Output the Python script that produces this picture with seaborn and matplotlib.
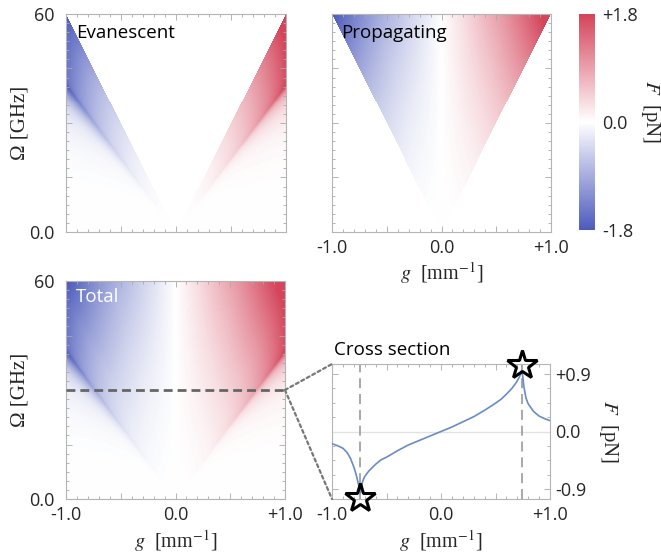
import numpy as np
import pandas as pd
import matplotlib
matplotlib.use("Agg")
import matplotlib.pyplot as plt
import seaborn as sns
from matplotlib.colors import LinearSegmentedColormap
from matplotlib.patches import ConnectionPatch
from matplotlib.ticker import FixedLocator, FixedFormatter, MultipleLocator

# ---------------- data ----------------
# cross section of the total force at Omega = 30 GHz
g_cs = [-1.00, -0.95, -0.90, -0.86, -0.83, -0.80, -0.78, -0.76, -0.745, -0.74,
        -0.73, -0.72, -0.70, -0.66, -0.60, -0.55, -0.50, -0.40, -0.30, -0.20,
        -0.10, 0.00, 0.10, 0.20, 0.30, 0.40, 0.45, 0.50, 0.55, 0.60, 0.65,
        0.69, 0.72, 0.74, 0.75, 0.76, 0.78, 0.80, 0.85, 0.90, 0.95, 1.00]
F_cs = [-0.19, -0.22, -0.26, -0.33, -0.42, -0.55, -0.66, -0.80, -0.90, -0.95,
        -0.86, -0.78, -0.70, -0.61, -0.51, -0.44, -0.40, -0.30, -0.21, -0.14,
        -0.07, 0.00, 0.07, 0.15, 0.23, 0.33, 0.385, 0.44, 0.50, 0.58, 0.67,
        0.76, 0.85, 0.95, 0.86, 0.70, 0.52, 0.43, 0.31, 0.24, 0.20, 0.17]
omega_cs = 30.0          # GHz, frequency of the cross section
cone_slope = 60.0        # propagating waves: |g| < Omega / 60
peak_u = 0.74            # evanescent resonance (in cross-section g units)
freq_power = 2.2         # growth of the force with frequency
star_g = [-0.74, 0.74]
star_F = [-1.04, 1.04]
F_lim = 1.8

g_major = [-1.0, -0.5, 0.0, 0.5, 1.0]
g_labels = ["-1.0", "", "0.0", "", "+1.0"]
om_major = [0, 15, 30, 45, 60]
om_labels = ["0.0", "", "", "", "60"]
F_major = [-0.9, 0.0, 0.9]
F_labels = ["-0.9", "0.0", "+0.9"]
cb_ticks = [-1.8, 0.0, 1.8]
cb_labels = ["-1.8", "0.0", "+1.8"]

# ---------------- force field built from the read profile ----------------
g_grid = np.linspace(-1, 1, 441)
om_grid = np.linspace(0.05, 60, 441)
G, OM = np.meshgrid(g_grid, om_grid)
U = G * omega_cs / OM
P = np.interp(U, g_cs, F_cs)
shape = np.sqrt((1 - peak_u**2) / np.maximum(U**2 - peak_u**2, 1e-9))
P = np.where(U > 1, F_cs[-1] * shape, np.where(U < -1, F_cs[0] * shape, P))
F_total = (OM / omega_cs) ** freq_power * P
inside = np.abs(G) < OM / cone_slope
F_prop = np.where(inside, F_total, np.nan)
F_evan = np.where(~inside, F_total, np.nan)

# ---------------- style ----------------
sns.set_theme(style="white")
plt.rcParams["font.family"] = ["Open Sans", "DejaVu Sans"]
plt.rcParams["mathtext.fontset"] = "stix"
SERIF = ["Liberation Serif", "DejaVu Serif"]
spine_c = "#b4b4b4"
tick_c = "#a8a8a8"
cmap = LinearSegmentedColormap.from_list("bwr_soft", ["#4d5bbc", "#ffffff", "#d4445a"])
LBL = 13
TTL = 13.5

fig = plt.figure(figsize=(6.61, 5.58), dpi=100)
W, H = 661.0, 558.0


def add_ax(x0, y0, x1, y1):
    return fig.add_axes([x0 / W, 1 - y1 / H, (x1 - x0) / W, (y1 - y0) / H])


axA = add_ax(66, 14, 286, 232)
axB = add_ax(332, 14, 551, 232)
axC = add_ax(66, 281, 285, 499)
axD = add_ax(332, 364, 550, 499)
cax = add_ax(579, 14, 595, 230)


def style_frame(ax):
    for s in ax.spines.values():
        s.set_color(spine_c)
        s.set_linewidth(0.8)
    ax.tick_params(which="both", direction="in", top=True, right=True,
                   bottom=True, left=True, color=tick_c, width=0.6,
                   labelsize=LBL)
    ax.tick_params(which="major", length=4)
    ax.tick_params(which="minor", length=2.3)


for ax, fld in [(axA, F_evan), (axB, F_prop), (axC, F_total)]:
    ax.imshow(fld, origin="lower", extent=[-1, 1, 0, 60], aspect="auto",
              cmap=cmap, vmin=-F_lim, vmax=F_lim, interpolation="nearest")
    ax.set_xlim(-1, 1)
    ax.set_ylim(0, 60)
    style_frame(ax)
    ax.xaxis.set_major_locator(FixedLocator(g_major))
    ax.xaxis.set_minor_locator(MultipleLocator(0.1))
    ax.yaxis.set_major_locator(FixedLocator(om_major))
    ax.yaxis.set_minor_locator(MultipleLocator(2.5))
    ax.xaxis.set_major_formatter(FixedFormatter(g_labels))
    ax.yaxis.set_major_formatter(FixedFormatter(om_labels))
    ax.tick_params(axis="x", pad=5)
    ax.tick_params(axis="y", pad=8)

axA.tick_params(labelbottom=False)
axB.tick_params(labelleft=False)

for ax in (axA, axC):
    ax.set_ylabel("Ω [GHz]", family=SERIF, fontsize=15)
    ax.yaxis.set_label_coords(-46 / 220, 0.5)
    ax.yaxis.label.set_va("center")
for ax, yoff in [(axB, -0.19), (axC, -0.195)]:
    ax.set_xlabel(r"$g$  [mm$^{-1}$]", family=SERIF, fontsize=14.5)
    ax.xaxis.set_label_coords(0.5, yoff)
    ax.xaxis.label.set_va("center")

axA.text(0.045, 0.915, "Evanescent", transform=axA.transAxes, fontsize=TTL,
         ha="left", va="center", color="black")
axB.text(0.04, 0.915, "Propagating", transform=axB.transAxes, fontsize=TTL,
         ha="left", va="center", color="black")
axC.text(0.045, 0.925, "Total", transform=axC.transAxes, fontsize=TTL,
         ha="left", va="center", color="white")

# dashed cross-section marker on the total panel
axC.plot([-1, 1], [omega_cs, omega_cs], color="#666666", lw=2.0,
         ls=(0, (3.2, 1.8)), zorder=3)

# colorbar
cb = fig.colorbar(axB.images[0], cax=cax)
cb.outline.set_visible(False)
cb.set_ticks(cb_ticks)
cb.set_ticklabels(cb_labels)
cax.tick_params(length=0, labelsize=LBL, pad=5)
cb.set_label(r"$F$  [pN]", family=SERIF, fontsize=15, rotation=270)
cax.yaxis.set_label_coords(4.45, 0.55)
cax.yaxis.label.set_va("center")

# ---------------- cross section ----------------
df = pd.DataFrame({"g": g_cs, "F": F_cs})
axD.axhline(0, color="#e2e2e2", lw=1.0, zorder=1)
for gx in star_g:
    axD.axvline(gx, color="#9a9a9a", lw=1.2, ls=(0, (6, 3.5)), zorder=1)
sns.lineplot(data=df, x="g", y="F", ax=axD, color="#6a8bc6", lw=1.2,
             sort=False, estimator=None, zorder=3)
axD.plot(star_g, star_F, ls="none", marker="*", ms=22, mfc="none", mec="black",
         mew=2.2, clip_on=False, zorder=4)
axD.set_xlim(-1, 1)
axD.set_ylim(-1.05, 1.05)
style_frame(axD)
axD.xaxis.set_major_locator(FixedLocator(g_major))
axD.xaxis.set_major_formatter(FixedFormatter(g_labels))
axD.xaxis.set_minor_locator(MultipleLocator(0.1))
axD.yaxis.set_major_locator(FixedLocator(F_major))
axD.yaxis.set_major_formatter(FixedFormatter(F_labels))
axD.yaxis.set_minor_locator(MultipleLocator(0.225))
axD.tick_params(axis="y", labelleft=False, labelright=True, pad=4)
axD.tick_params(axis="x", pad=5)
axD.set_xlabel(r"$g$  [mm$^{-1}$]", family=SERIF, fontsize=14.5)
axD.xaxis.set_label_coords(0.5, -0.31)
axD.xaxis.label.set_va("center")
axD.yaxis.set_label_position("right")
axD.set_ylabel(r"$F$  [pN]", family=SERIF, fontsize=15, rotation=270)
axD.yaxis.set_label_coords(1.27, 0.5)
axD.yaxis.label.set_va("center")
axD.text(0.01, 1.105, "Cross section", transform=axD.transAxes, fontsize=TTL,
         ha="left", va="center", color="black")

# dotted connectors from the dashed line to the cross-section panel
for yb in (1, 0):
    con = ConnectionPatch(xyA=(1.0, omega_cs), coordsA=axC.transData,
                          xyB=(0, yb), coordsB=axD.transAxes,
                          color="#777777", lw=1.6, ls=(0, (1.4, 1.4)))
    fig.add_artist(con)

fig.savefig("out.png", dpi=100, facecolor="white")
